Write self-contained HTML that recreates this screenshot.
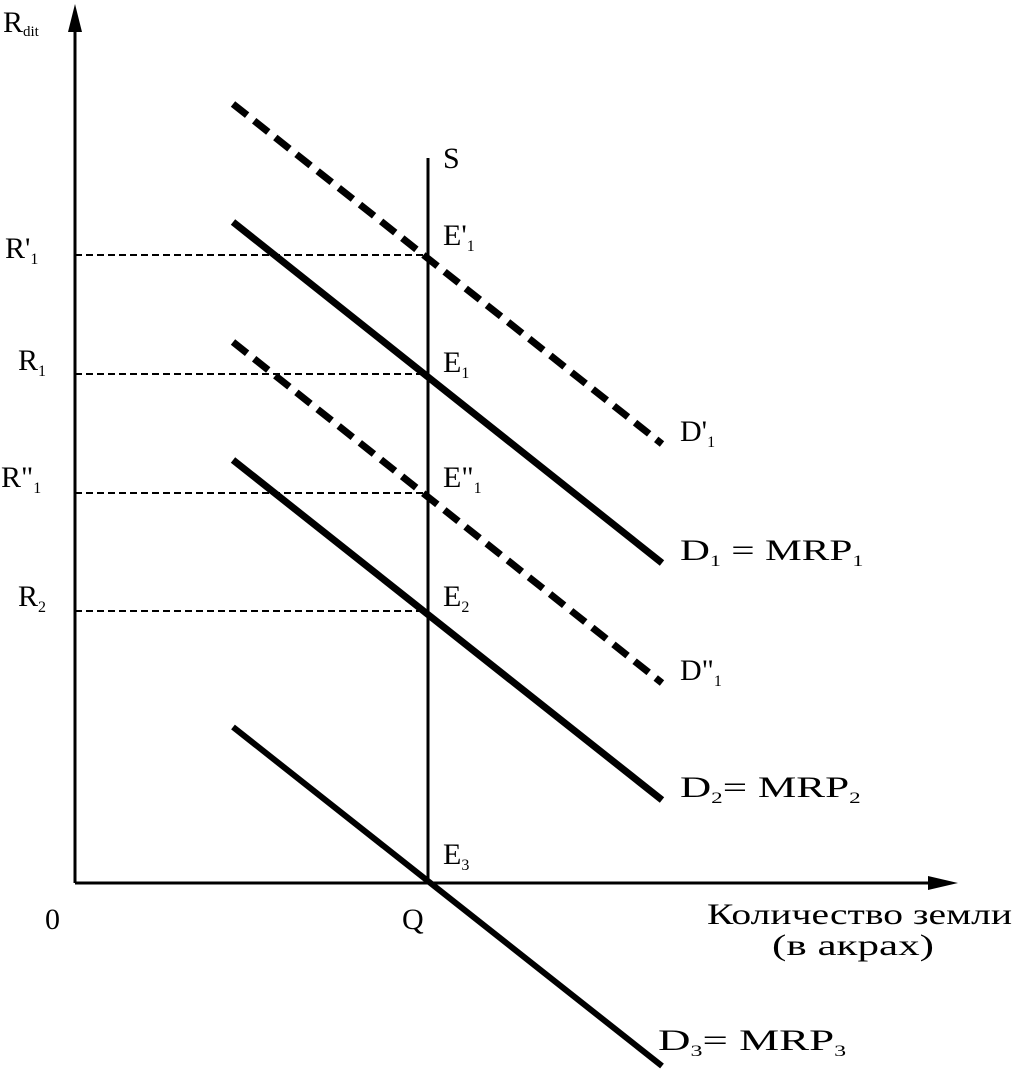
<!DOCTYPE html>
<html><head><meta charset="utf-8"><style>
html,body{margin:0;padding:0;background:#fff;}
svg{display:block;}
text{font-family:"Liberation Serif","DejaVu Serif",serif;fill:#000;}
</style></head><body>
<svg width="1014" height="1072" viewBox="0 0 1014 1072" xmlns="http://www.w3.org/2000/svg">
<line x1="75" y1="883" x2="75" y2="22" stroke="#000" stroke-width="3"/>
<polygon points="75,4 68,32 82,32" fill="#000"/>
<line x1="75" y1="883" x2="935" y2="883" stroke="#000" stroke-width="3"/>
<polygon points="958,883 928,876 928,890" fill="#000"/>
<line x1="428" y1="158" x2="428" y2="883" stroke="#000" stroke-width="3"/>
<g stroke="#000" stroke-width="2" stroke-dasharray="7,4">
<line x1="75" y1="255" x2="428" y2="255"/>
<line x1="75" y1="374" x2="428" y2="374"/>
<line x1="75" y1="493" x2="428" y2="493"/>
<line x1="75" y1="611" x2="428" y2="611"/>
</g>
<line x1="233" y1="104" x2="662" y2="444" stroke="#000" stroke-width="7" stroke-dasharray="18,9"/>
<line x1="233" y1="222" x2="662" y2="563" stroke="#000" stroke-width="7"/>
<line x1="233" y1="342" x2="662" y2="683" stroke="#000" stroke-width="7" stroke-dasharray="18,9"/>
<line x1="233" y1="460" x2="662" y2="800" stroke="#000" stroke-width="7"/>
<line x1="233" y1="727" x2="662" y2="1066" stroke="#000" stroke-width="6"/>
<g font-size="30">
<text x="3" y="32">R<tspan font-size="15" dy="4">dit</tspan></text>
<text x="443" y="168">S</text>
<text x="5" y="258">R'<tspan font-size="16" dy="6">1</tspan></text>
<text x="18" y="370">R<tspan font-size="16" dy="6">1</tspan></text>
<text x="1" y="487">R"<tspan font-size="16" dy="6">1</tspan></text>
<text x="18" y="606">R<tspan font-size="16" dy="6">2</tspan></text>
<text x="443" y="245">E'<tspan font-size="16" dy="6">1</tspan></text>
<text x="443" y="372">E<tspan font-size="16" dy="6">1</tspan></text>
<text x="443" y="487">E"<tspan font-size="16" dy="6">1</tspan></text>
<text x="443" y="606">E<tspan font-size="16" dy="6">2</tspan></text>
<text x="443" y="864">E<tspan font-size="16" dy="6">3</tspan></text>
<text x="680" y="441">D'<tspan font-size="16" dy="6">1</tspan></text>
<text x="680" y="560" transform="translate(680,0) scale(1.38,1) translate(-680,0)">D<tspan font-size="16" dy="6">1</tspan><tspan dy="-6"> = MRP</tspan><tspan font-size="16" dy="6">1</tspan></text>
<text x="680" y="680">D"<tspan font-size="16" dy="6">1</tspan></text>
<text x="680" y="797" transform="translate(680,0) scale(1.44,1) translate(-680,0)">D<tspan font-size="16" dy="6">2</tspan><tspan dy="-6">= MRP</tspan><tspan font-size="16" dy="6">2</tspan></text>
<text x="658" y="1050" transform="translate(658,0) scale(1.5,1) translate(-658,0)">D<tspan font-size="16" dy="6">3</tspan><tspan dy="-6">= MRP</tspan><tspan font-size="16" dy="6">3</tspan></text>
<text x="45" y="929">0</text>
<text x="402" y="929">Q</text>
<text x="707" y="924" textLength="305" lengthAdjust="spacingAndGlyphs">Количество земли</text>
<text x="772" y="955" textLength="162" lengthAdjust="spacingAndGlyphs">(в акрах)</text>
</g>
</svg>
</body></html>
